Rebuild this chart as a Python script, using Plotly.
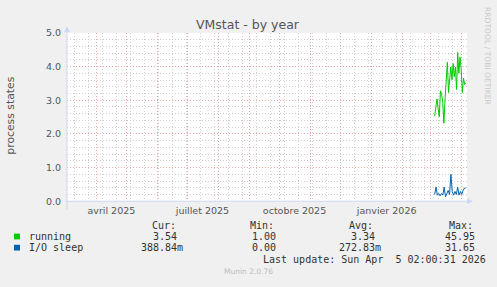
import plotly.graph_objects as go
import pandas as pd

# ---- data ----
running = [2.53, 2.85, 3.04, 2.75, 2.51, 3.28, 3.18, 2.94, 2.32, 3.04, 3.80, 4.13, 3.23, 3.61,
           3.99, 3.61, 4.09, 3.70, 3.99, 3.32, 4.42, 3.80, 4.28, 3.94, 3.23, 3.66, 3.47, 3.51]
io_sleep = [0.20, 0.42, 0.18, 0.23, 0.16, 0.23, 0.18, 0.42, 0.13, 0.23, 0.32, 0.20, 0.80, 0.28,
            0.18, 0.29, 0.20, 0.42, 0.18, 0.29, 0.20, 0.32, 0.39, 0.39]
series_start = "2026-03-05"
series_end = "2026-04-05 02:00"

month_labels = ["avril 2025", "juillet 2025", "octobre 2025", "janvier 2026"]
month_label_pos = ["2025-04-16", "2025-07-16", "2025-10-16", "2026-01-16"]

legend_names = ["running", "I/O sleep"]
legend_cur = ["3.54", "388.84m"]
legend_min = ["1.00", "0.00"]
legend_avg = ["3.34", "272.83m"]
legend_max = ["45.95", "31.65"]
colors = ["#00CC00", "#0066B3"]

x_range = ["2025-03-02 17:00", "2026-04-06 07:00"]

W, H = 497, 287
def px(x):
    return x / W
def py(y):
    return 1 - y / H

x_run = pd.date_range(series_start, series_end, periods=len(running))
x_io = pd.date_range(series_start, series_end, periods=len(io_sleep))

fig = go.Figure()
fig.add_trace(go.Scatter(x=x_run, y=running, mode="lines",
                         line=dict(color=colors[0], width=1), showlegend=False))
fig.add_trace(go.Scatter(x=x_io, y=io_sleep, mode="lines",
                         line=dict(color=colors[1], width=1), showlegend=False))
# invisible trace to activate xaxis2 (labels)
fig.add_trace(go.Scatter(x=[x_range[0]], y=[None], xaxis="x2", showlegend=False,
                         hoverinfo="skip"))

major_grid = "#EBA8A8"
minor_grid = "#D0D0D0"
tick_font = dict(family="DejaVu Sans", size=9.5, color="#555555")

fig.update_layout(
    width=W, height=H,
    margin=dict(l=0, r=0, t=0, b=0),
    paper_bgcolor="#F0F0F0",
    plot_bgcolor="#FFFFFF",
    showlegend=False,
    xaxis=dict(
        type="date", range=x_range,
        domain=[px(67), px(467)],
        showticklabels=False, ticks="",
        tick0="2025-04-01", dtick="M1",
        showgrid=True, gridcolor=major_grid, griddash="1px,2px", gridwidth=1,
        minor=dict(tick0="2025-03-10", dtick=14 * 86400000, showgrid=True,
                   gridcolor=minor_grid, griddash="1px,2px", gridwidth=1),
        showline=False, zeroline=False, fixedrange=True,
    ),
    xaxis2=dict(
        type="date", range=x_range, overlaying="x", anchor="y", side="bottom",
        domain=[px(67), px(467)],
        tickmode="array", tickvals=month_label_pos, ticktext=month_labels,
        showgrid=False, ticks="", tickfont=tick_font, showline=False, zeroline=False,
        ticklabelstandoff=2,
    ),
    yaxis=dict(
        range=[0, 5], domain=[py(203), py(28)],
        tick0=0, dtick=1, tickformat=".1f", tickfont=tick_font, ticks="",
        ticklabelstandoff=5,
        showgrid=True, gridcolor=major_grid, griddash="1px,2px", gridwidth=1,
        minor=dict(dtick=0.2, showgrid=True, gridcolor=minor_grid,
                   griddash="1px,2px", gridwidth=1),
        showline=False, zeroline=False, fixedrange=True,
    ),
)

ann = []
# title
ann.append(dict(text="VMstat - by year", x=px(248), y=py(19), xref="paper", yref="paper",
                showarrow=False, xanchor="center", yanchor="middle",
                font=dict(family="DejaVu Sans", size=12.5, color="#555555")))
# y axis title
ann.append(dict(text="process states", x=px(11), y=py(114), xref="paper", yref="paper",
                showarrow=False, textangle=-90, xanchor="center", yanchor="middle",
                font=dict(family="DejaVu Sans", size=10.8, color="#555555")))
# side text
ann.append(dict(text="RRDTOOL / TOBI OETIKER", x=px(488), y=py(52), xref="paper", yref="paper",
                showarrow=False, textangle=90, xanchor="center", yanchor="middle",
                font=dict(family="DejaVu Sans", size=7.6, color="#C8C8C8")))
# axis arrows
axis_col = "#CFD6F8"
ann.append(dict(text="", x=px(473), y=py(203), xref="paper", yref="paper",
                ax=-(473 - 64), ay=0, axref="pixel", ayref="pixel",
                showarrow=True, arrowhead=2, arrowsize=1.2, arrowwidth=1,
                arrowcolor=axis_col, standoff=0))
ann.append(dict(text="", x=px(67), y=py(21), xref="paper", yref="paper",
                ax=0, ay=(206 - 21), axref="pixel", ayref="pixel",
                showarrow=True, arrowhead=2, arrowsize=1.2, arrowwidth=1,
                arrowcolor=axis_col, standoff=0))

mono = dict(family="DejaVu Sans Mono", size=10, color="#333333")
def txt(s, x, y, font=mono, anchor="left"):
    ann.append(dict(text=s, x=px(x), y=py(y), xref="paper", yref="paper",
                    showarrow=False, xanchor=anchor, yanchor="middle", font=font))

txt("Cur:", 150, 228.5)
txt("Min:", 248, 228.5)
txt("Avg:", 347, 228.5)
txt("Max:", 447, 228.5)
row_y = [239.7, 251.3]
for i in range(2):
    y = row_y[i]
    txt(legend_names[i], 27, y)
    txt(legend_cur[i], 179 + (6 if legend_cur[i].endswith("m") else 0), y, anchor="right")
    txt(legend_min[i], 278, y, anchor="right")
    txt(legend_avg[i], 377 + (6 if legend_avg[i].endswith("m") else 0), y, anchor="right")
    txt(legend_max[i], 477, y, anchor="right")
txt("Last update: Sun Apr \u00a05 02:00:31 2026", 261, 263.3)
txt("Munin 2.0.76", 248, 276.3, font=dict(family="DejaVu Sans", size=7.5, color="#BBBBBB"),
    anchor="center")

fig.update_layout(annotations=ann)

shapes = []
for i in range(2):
    shapes.append(dict(type="rect", xref="paper", yref="paper",
                       x0=px(14), x1=px(20), y0=py(row_y[i] + 3), y1=py(row_y[i] - 3),
                       fillcolor=colors[i], line=dict(width=0)))
fig.update_layout(shapes=shapes)

fig.write_html("out.html")
